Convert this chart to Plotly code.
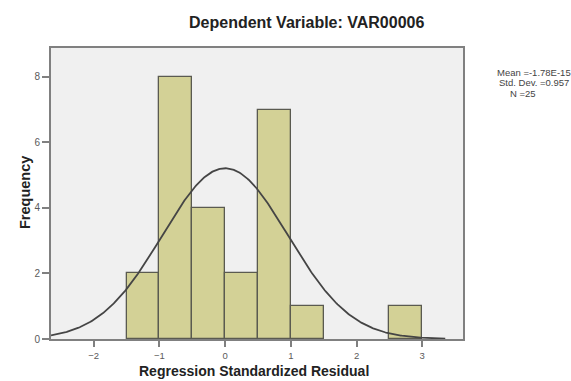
import numpy as np
import plotly.graph_objects as go

# Histogram of standardized residuals (bin width 0.5)
bin_left = [-1.5, -1.0, -0.5, 0.0, 0.5, 1.0, 2.5]
counts = [2, 8, 4, 2, 7, 1, 1]
bin_width = 0.5

# Summary statistics of the residuals
mean = -1.78e-15
std_dev = 0.957
n_obs = 25
stat_lines = ["Mean =-1.78E-15", "Std. Dev. =0.957", "N =25"]

x_ticks = [-2, -1, 0, 1, 2, 3]
y_ticks = [0, 2, 4, 6, 8]
x_range = [-2.65, 3.62]
y_range = [0, 8.88]

W, H = 571, 381
L, R, T, B = 51, 108, 48, 42
FONT = "Liberation Sans, Arial, sans-serif"


def px_x(px):
    return (px - L) / (W - L - R)


def px_y(py):
    return (H - B - py) / (H - T - B)


bin_centers = [b + bin_width / 2 for b in bin_left]

# Normal curve scaled to the histogram counts
curve_x = np.linspace(x_range[0], 3.35, 400)
curve_y = n_obs * bin_width * np.exp(-0.5 * ((curve_x - mean) / std_dev) ** 2) / (std_dev * np.sqrt(2 * np.pi))

fig = go.Figure()
fig.add_trace(go.Bar(
    x=bin_centers, y=counts, width=bin_width,
    marker=dict(color="#d3d196", line=dict(color="#5a5a50", width=1.3)),
    hoverinfo="x+y",
))
fig.add_trace(go.Scatter(
    x=curve_x, y=curve_y, mode="lines",
    line=dict(color="#454545", width=1.8),
    hoverinfo="skip",
))

axis_common = dict(
    showline=True, mirror=True, linecolor="#808080", linewidth=2,
    ticks="outside", tickwidth=1.5, tickcolor="#808080",
    showgrid=False, zeroline=False,
)

fig.update_xaxes(range=x_range, tickvals=x_ticks, ticklen=6, ticklabelstandoff=1,
                 tickfont=dict(family=FONT, size=9.5, color="#5a5a5a"), **axis_common)
fig.update_yaxes(range=y_range, tickvals=y_ticks, ticklen=7, ticklabelstandoff=0,
                 tickfont=dict(family=FONT, size=10, color="#5a5a5a"), **axis_common)

annotations = [
    dict(text="<b>Dependent Variable: VAR00006</b>", x=px_x(306), y=px_y(22),
         yanchor="middle", font=dict(family=FONT, size=16, color="#222222")),
    dict(text="<b>Regression Standardized Residual</b>", x=px_x(254), y=0, yshift=-B,
         yanchor="bottom", font=dict(family=FONT, size=14, color="#222222")),
    dict(text="<b>Frequency</b>", x=px_x(25), y=px_y(193), textangle=-90,
         yanchor="middle", font=dict(family=FONT, size=14.5, color="#222222")),
]
for line, xs, ys in zip(stat_lines, [495, 497, 508], [72, 82.5, 93]):
    annotations.append(dict(text=line, x=px_x(xs), y=px_y(ys), xanchor="left",
                            yanchor="middle",
                            font=dict(family=FONT, size=9.5, color="#444444")))

for a in annotations:
    a.setdefault("xanchor", "center")
    a.update(xref="paper", yref="paper", showarrow=False)

fig.update_layout(
    width=W, height=H,
    margin=dict(l=L, r=R, t=T, b=B),
    paper_bgcolor="white", plot_bgcolor="#f0f0f0",
    showlegend=False, bargap=0,
    annotations=annotations,
)

fig.write_html("out.html")
